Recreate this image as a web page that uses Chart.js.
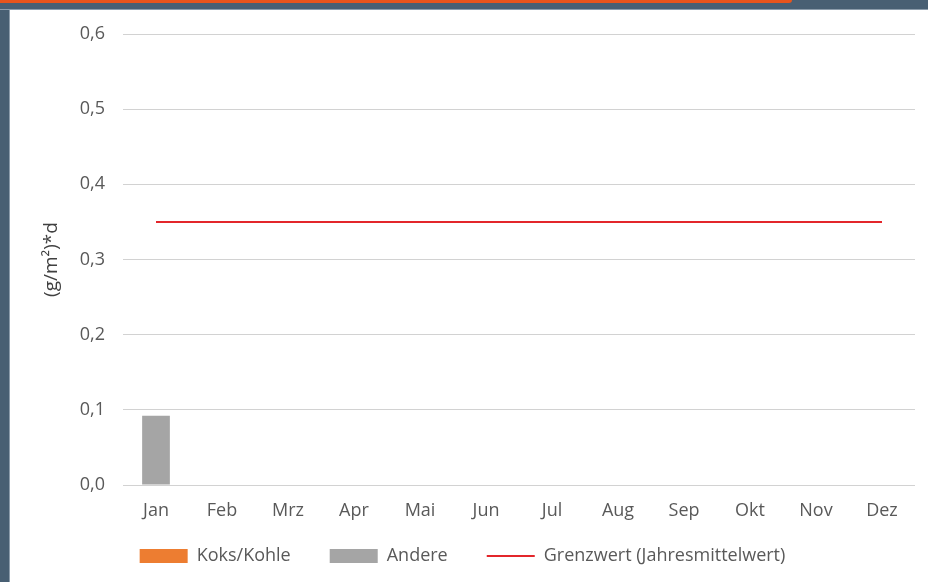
<!DOCTYPE html>
<html>
<head>
<meta charset="utf-8">
<script src="https://cdn.jsdelivr.net/npm/chart.js@4"></script>
<style>
  html, body { margin: 0; padding: 0; background: #fff; }
  body { width: 928px; height: 582px; position: relative; overflow: hidden; }
  .side { position: absolute; left: 0; top: 0; width: 9px; height: 582px; background: #485f73; border-right: 1px solid #8c9cab; }
  .top { position: absolute; left: 0; top: 0; width: 928px; height: 9px; background: #485f73; border-bottom: 1px solid #8c9cab; }
  .stripe { position: absolute; left: 0; top: 0; width: 792px; height: 3px; background: #e8541c; border-bottom-right-radius: 8px; }
  .wrap { position: absolute; left: 10px; top: 10px; width: 918px; height: 572px; }
</style>
</head>
<body>
<div class="side"></div>
<div class="top"><div class="stripe"></div></div>
<div class="wrap"><canvas id="chart"></canvas></div>
<script>
// Data
const months = ['Jan', 'Feb', 'Mrz', 'Apr', 'Mai', 'Jun', 'Jul', 'Aug', 'Sep', 'Okt', 'Nov', 'Dez'];
const koksKohle = [0, null, null, null, null, null, null, null, null, null, null, null];
const andere = [0.092, null, null, null, null, null, null, null, null, null, null, null];
const grenzwert = [0.35, 0.35, 0.35, 0.35, 0.35, 0.35, 0.35, 0.35, 0.35, 0.35, 0.35, 0.35];
const yTicks = [0, 0.1, 0.2, 0.3, 0.4, 0.5, 0.6];

const textColor = '#595959';
const fontFamily = '"Open Sans", "Noto Sans", sans-serif';

const ctx = document.getElementById('chart').getContext('2d');

new Chart(ctx, {
  type: 'bar',
  data: {
    labels: months,
    datasets: [
      {
        label: 'Koks/Kohle',
        data: koksKohle,
        backgroundColor: '#ed7d31',
        stack: 'anteile',
        barPercentage: 0.42,
        categoryPercentage: 1,
        order: 2
      },
      {
        label: 'Andere',
        data: andere,
        backgroundColor: '#a5a5a5',
        stack: 'anteile',
        barPercentage: 0.42,
        categoryPercentage: 1,
        order: 2
      },
      {
        type: 'line',
        label: 'Grenzwert (Jahresmittelwert)',
        data: grenzwert,
        borderColor: '#e3262b',
        borderWidth: 2,
        pointRadius: 0,
        fill: false,
        stack: 'grenze',
        order: 1
      }
    ]
  },
  options: {
    responsive: true,
    maintainAspectRatio: false,
    animation: false,
    layout: { padding: { top: 24, right: 13, left: 0, bottom: 7 } },
    plugins: {
      tooltip: { enabled: false },
      legend: {
        position: 'bottom',
        labels: {
          color: textColor,
          font: { family: fontFamily, size: 18 },
          usePointStyle: true,
          pointStyleWidth: 48,
          boxHeight: 14,
          padding: 25,
          // bar items get a little extra room after the text, like the original
          generateLabels: (chart) => chart.data.datasets.map((ds, i) => ({
            text: ds.type === 'line' ? ds.label : ds.label + '   ',
            datasetIndex: i,
            fillStyle: ds.type === 'line' ? ds.borderColor : ds.backgroundColor,
            strokeStyle: ds.type === 'line' ? ds.borderColor : ds.backgroundColor,
            lineWidth: ds.type === 'line' ? 2 : 0,
            pointStyle: ds.type === 'line' ? 'line' : 'rect',
            fontColor: textColor,
            hidden: false
          }))
        }
      }
    },
    scales: {
      x: {
        stacked: true,
        grid: { display: false, drawTicks: false },
        border: { display: false },
        ticks: { color: textColor, font: { family: fontFamily, size: 18 }, padding: 15, maxRotation: 0 },
        afterFit: (scale) => { scale.height = 37; }
      },
      y: {
        stacked: true,
        min: 0,
        max: 0.6,
        afterBuildTicks: (scale) => { scale.ticks = yTicks.map(v => ({ value: v })); },
        grid: { color: '#d2d2d2', lineWidth: 1, drawTicks: false },
        border: { display: false },
        ticks: {
          color: textColor,
          font: { family: fontFamily, size: 18 },
          padding: 18,
          callback: (v) => (Math.round(v * 10) / 10).toFixed(1).replace('.', ',')
        },
        title: {
          display: true,
          text: '(g/m²)*d',
          color: '#404040',
          font: { family: fontFamily, size: 19 },
          padding: { top: 30, bottom: 0 }
        },
        afterFit: (scale) => {
          scale.width = 113;
          scale.paddingTop = 0;
          scale.paddingBottom = 0;
        }
      }
    }
  }
});
</script>
</body>
</html>
